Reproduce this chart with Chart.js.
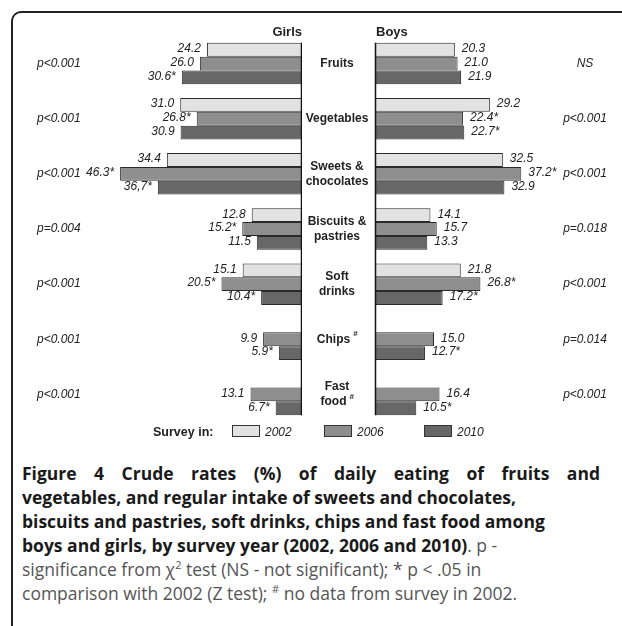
<!DOCTYPE html>
<html>
<head>
<meta charset="utf-8">
<script src="https://cdn.jsdelivr.net/npm/chart.js@4.4.1/dist/chart.umd.min.js"></script>
<style>
    body { margin: 0; width: 622px; height: 626px; overflow: hidden; background: #fff; position: relative; font-family: 'Liberation Sans', Arial, sans-serif; }
    #frame { position: absolute; left: 11px; top: 11px; width: 700px; height: 700px; border-top: 2px solid #222; border-left: 2px solid #222; border-top-left-radius: 10px; }
    #girls { position: absolute; left: 0; top: 0; }
    #boys { position: absolute; left: 302px; top: 0; }
    #legend { position: absolute; left: 0; top: 425px; width: 622px; height: 16px; font-size: 12px; color: #222; }
    #legend .title { position: absolute; left: 153px; top: 0; font-weight: bold; font-size: 12.5px; }
    #legend .item { position: absolute; top: 0; white-space: nowrap; }
    #legend .box { display: inline-block; width: 26px; height: 10px; border: 1px solid #333; vertical-align: -1px; margin-right: 5px; }
    #legend .item i { font-size: 12px; }
    #caption { position: absolute; left: 22px; top: 461px; width: 578px; font-family: 'Open Sans', sans-serif; font-size: 17.5px; line-height: 24px; color: #555; }
    #caption .line { white-space: nowrap; }
    #caption .just { text-align: justify; text-align-last: justify; white-space: normal; height: 24px; }
    #caption b { color: #1a1a1a; }
    #caption sup { font-size: 11px; line-height: 0; }
</style>
</head>
<body>
<div id="frame"></div>
<canvas id="girls" width="302" height="440"></canvas>
<canvas id="boys" width="320" height="440"></canvas>
<div id="legend"><span class="title">Survey in:</span></div>
<div id="caption">
    <div class="line just"><b>Figure 4 Crude rates (%) of daily eating of fruits and</b></div>
    <div class="line"><b>vegetables, and regular intake of sweets and chocolates,</b></div>
    <div class="line"><b>biscuits and pastries, soft drinks, chips and fast food among</b></div>
    <div class="line"><b>boys and girls, by survey year (2002, 2006 and 2010)</b>. p -</div>
    <div class="line">significance from &chi;<sup>2</sup> test (NS - not significant); * p &lt; .05 in</div>
    <div class="line">comparison with 2002 (Z test); <sup>#</sup> no data from survey in 2002.</div>
</div>
<script>
const categories = [['Fruits'], ['Vegetables'], ['Sweets &', 'chocolates'], ['Biscuits &', 'pastries'], ['Soft', 'drinks'], ['Chips'], ['Fast', 'food']];
const no2002Data = [false, false, false, false, false, true, true];
const years = ['2002', '2006', '2010'];

const girls2002 = [24.2, 31.0, 34.4, 12.8, 15.1, null, null];
const girls2006 = [26.0, 26.8, 46.3, 15.2, 20.5, 9.9, 13.1];
const girls2010 = [30.6, 30.9, 36.7, 11.5, 10.4, 5.9, 6.7];
const boys2002 = [20.3, 29.2, 32.5, 14.1, 21.8, null, null];
const boys2006 = [21.0, 22.4, 37.2, 15.7, 26.8, 15.0, 16.4];
const boys2010 = [21.9, 22.7, 32.9, 13.3, 17.2, 12.7, 10.5];

// * = p < .05 vs 2002
const girlsStar2006 = [0, 1, 1, 1, 1, 0, 0];
const girlsStar2010 = [1, 0, 1, 0, 1, 1, 1];
const boysStar2006 = [0, 1, 1, 0, 1, 0, 0];
const boysStar2010 = [0, 1, 0, 0, 1, 1, 1];

const girlsP = ['p<0.001', 'p<0.001', 'p<0.001', 'p=0.004', 'p<0.001', 'p<0.001', 'p<0.001'];
const boysP = ['NS', 'p<0.001', 'p<0.001', 'p=0.018', 'p<0.001', 'p=0.014', 'p<0.001'];

const fills = ['#e2e2e2', '#8e8e8e', '#676767'];
const edge = '#2a2a2a';
const ink = '#222';

function fmt(v, star) {
    return v.toFixed(1) + (star ? '*' : '');
}

function valueLabel(side, ds, i) {
    const vals = side === 'girls' ? [girls2002, girls2006, girls2010] : [boys2002, boys2006, boys2010];
    const stars = side === 'girls' ? [null, girlsStar2006, girlsStar2010] : [null, boysStar2006, boysStar2010];
    let txt = fmt(vals[ds][i], stars[ds] && stars[ds][i]);
    // the source figure prints this one with a decimal comma
    if (side === 'girls' && ds === 2 && i === 2) txt = txt.replace('.', ',');
    return txt;
}

function sidePlugin(side) {
    return {
        id: 'side-' + side,
        afterDatasetsDraw(chart) {
            const ctx = chart.ctx;
            const area = chart.chartArea;
            const yScale = chart.scales.y;
            const first = chart.getDatasetMeta(0).data[0];
            const last = chart.getDatasetMeta(2).data[categories.length - 1];
            const axisX = side === 'girls' ? area.right - 0.5 : area.left + 0.5;

            ctx.save();
            // axis line, only as long as the bars
            ctx.strokeStyle = '#111';
            ctx.lineWidth = 1.5;
            ctx.beginPath();
            ctx.moveTo(axisX, first.y - first.height / 2);
            ctx.lineTo(axisX, last.y + last.height / 2);
            ctx.stroke();

            // value labels
            ctx.fillStyle = ink;
            ctx.font = 'italic 12px "Liberation Sans", Arial, sans-serif';
            ctx.textBaseline = 'middle';
            ctx.textAlign = side === 'girls' ? 'right' : 'left';
            for (let ds = 0; ds < 3; ds++) {
                chart.getDatasetMeta(ds).data.forEach((bar, i) => {
                    const v = chart.data.datasets[ds].data[i];
                    if (v === null) return;
                    const x = side === 'girls' ? bar.x - 6 : bar.x + 7;
                    ctx.fillText(valueLabel(side, ds, i), x, bar.y - 1);
                });
            }

            // p values
            const pv = side === 'girls' ? girlsP : boysP;
            ctx.textAlign = side === 'girls' ? 'left' : 'center';
            pv.forEach((p, i) => {
                const y = yScale.getPixelForValue(i);
                ctx.fillText(p, side === 'girls' ? 37 : 283, y);
            });

            // header
            ctx.font = 'bold 13px "Liberation Sans", Arial, sans-serif';
            ctx.textAlign = side === 'girls' ? 'right' : 'left';
            ctx.fillText(side === 'girls' ? 'Girls' : 'Boys', side === 'girls' ? area.right : area.left + 1, 32);

            // category names between the two axes
            if (side === 'boys') {
                const cx = 35;
                categories.forEach((lines, i) => {
                    const yc = yScale.getPixelForValue(i);
                    lines.forEach((line, k) => {
                        const y = yc + (k - (lines.length - 1) / 2) * 15;
                        ctx.font = 'bold 12px "Liberation Sans", Arial, sans-serif';
                        const isLast = k === lines.length - 1 && no2002Data[i];
                        const w = ctx.measureText(line).width;
                        const supW = isLast ? 7 : 0;
                        const left = cx - (w + supW) / 2;
                        ctx.textAlign = 'left';
                        ctx.fillText(line, left, y);
                        if (isLast) {
                            ctx.font = 'bold 8px "Liberation Sans", Arial, sans-serif';
                            ctx.fillText('#', left + w + 3, y - 5);
                        }
                    });
                });
            }
            ctx.restore();
        }
    };
}

function makeChart(side) {
    const series = side === 'girls' ? [girls2002, girls2006, girls2010] : [boys2002, boys2006, boys2010];
    const padding = side === 'girls'
        ? { left: 27, right: 0, top: 36, bottom: 18 }
        : { left: 73, right: 11, top: 36, bottom: 18 };
    return new Chart(document.getElementById(side), {
        type: 'bar',
        data: {
            labels: categories.map(c => c.join(' ')),
            datasets: years.map((y, i) => ({
                label: y,
                data: series[i],
                backgroundColor: fills[i],
                borderColor: edge,
                borderWidth: 1,
                barPercentage: 1,
                categoryPercentage: 0.752
            }))
        },
        options: {
            indexAxis: 'y',
            responsive: false,
            animation: false,
            layout: { padding: padding },
            scales: {
                x: { display: false, min: 0, max: side === 'girls' ? 70 : 60, reverse: side === 'girls' },
                y: { display: false }
            },
            plugins: { legend: { display: false }, tooltip: { enabled: false } }
        },
        plugins: [sidePlugin(side)]
    });
}

makeChart('girls');
makeChart('boys');

// legend
const legendX = [232, 324, 424];
const legend = document.getElementById('legend');
years.forEach((y, i) => {
    const item = document.createElement('span');
    item.className = 'item';
    item.style.left = legendX[i] + 'px';
    item.innerHTML = `<span class="box" style="background:${fills[i]}"></span><i>${y}</i>`;
    legend.appendChild(item);
});
</script>
</body>
</html>
